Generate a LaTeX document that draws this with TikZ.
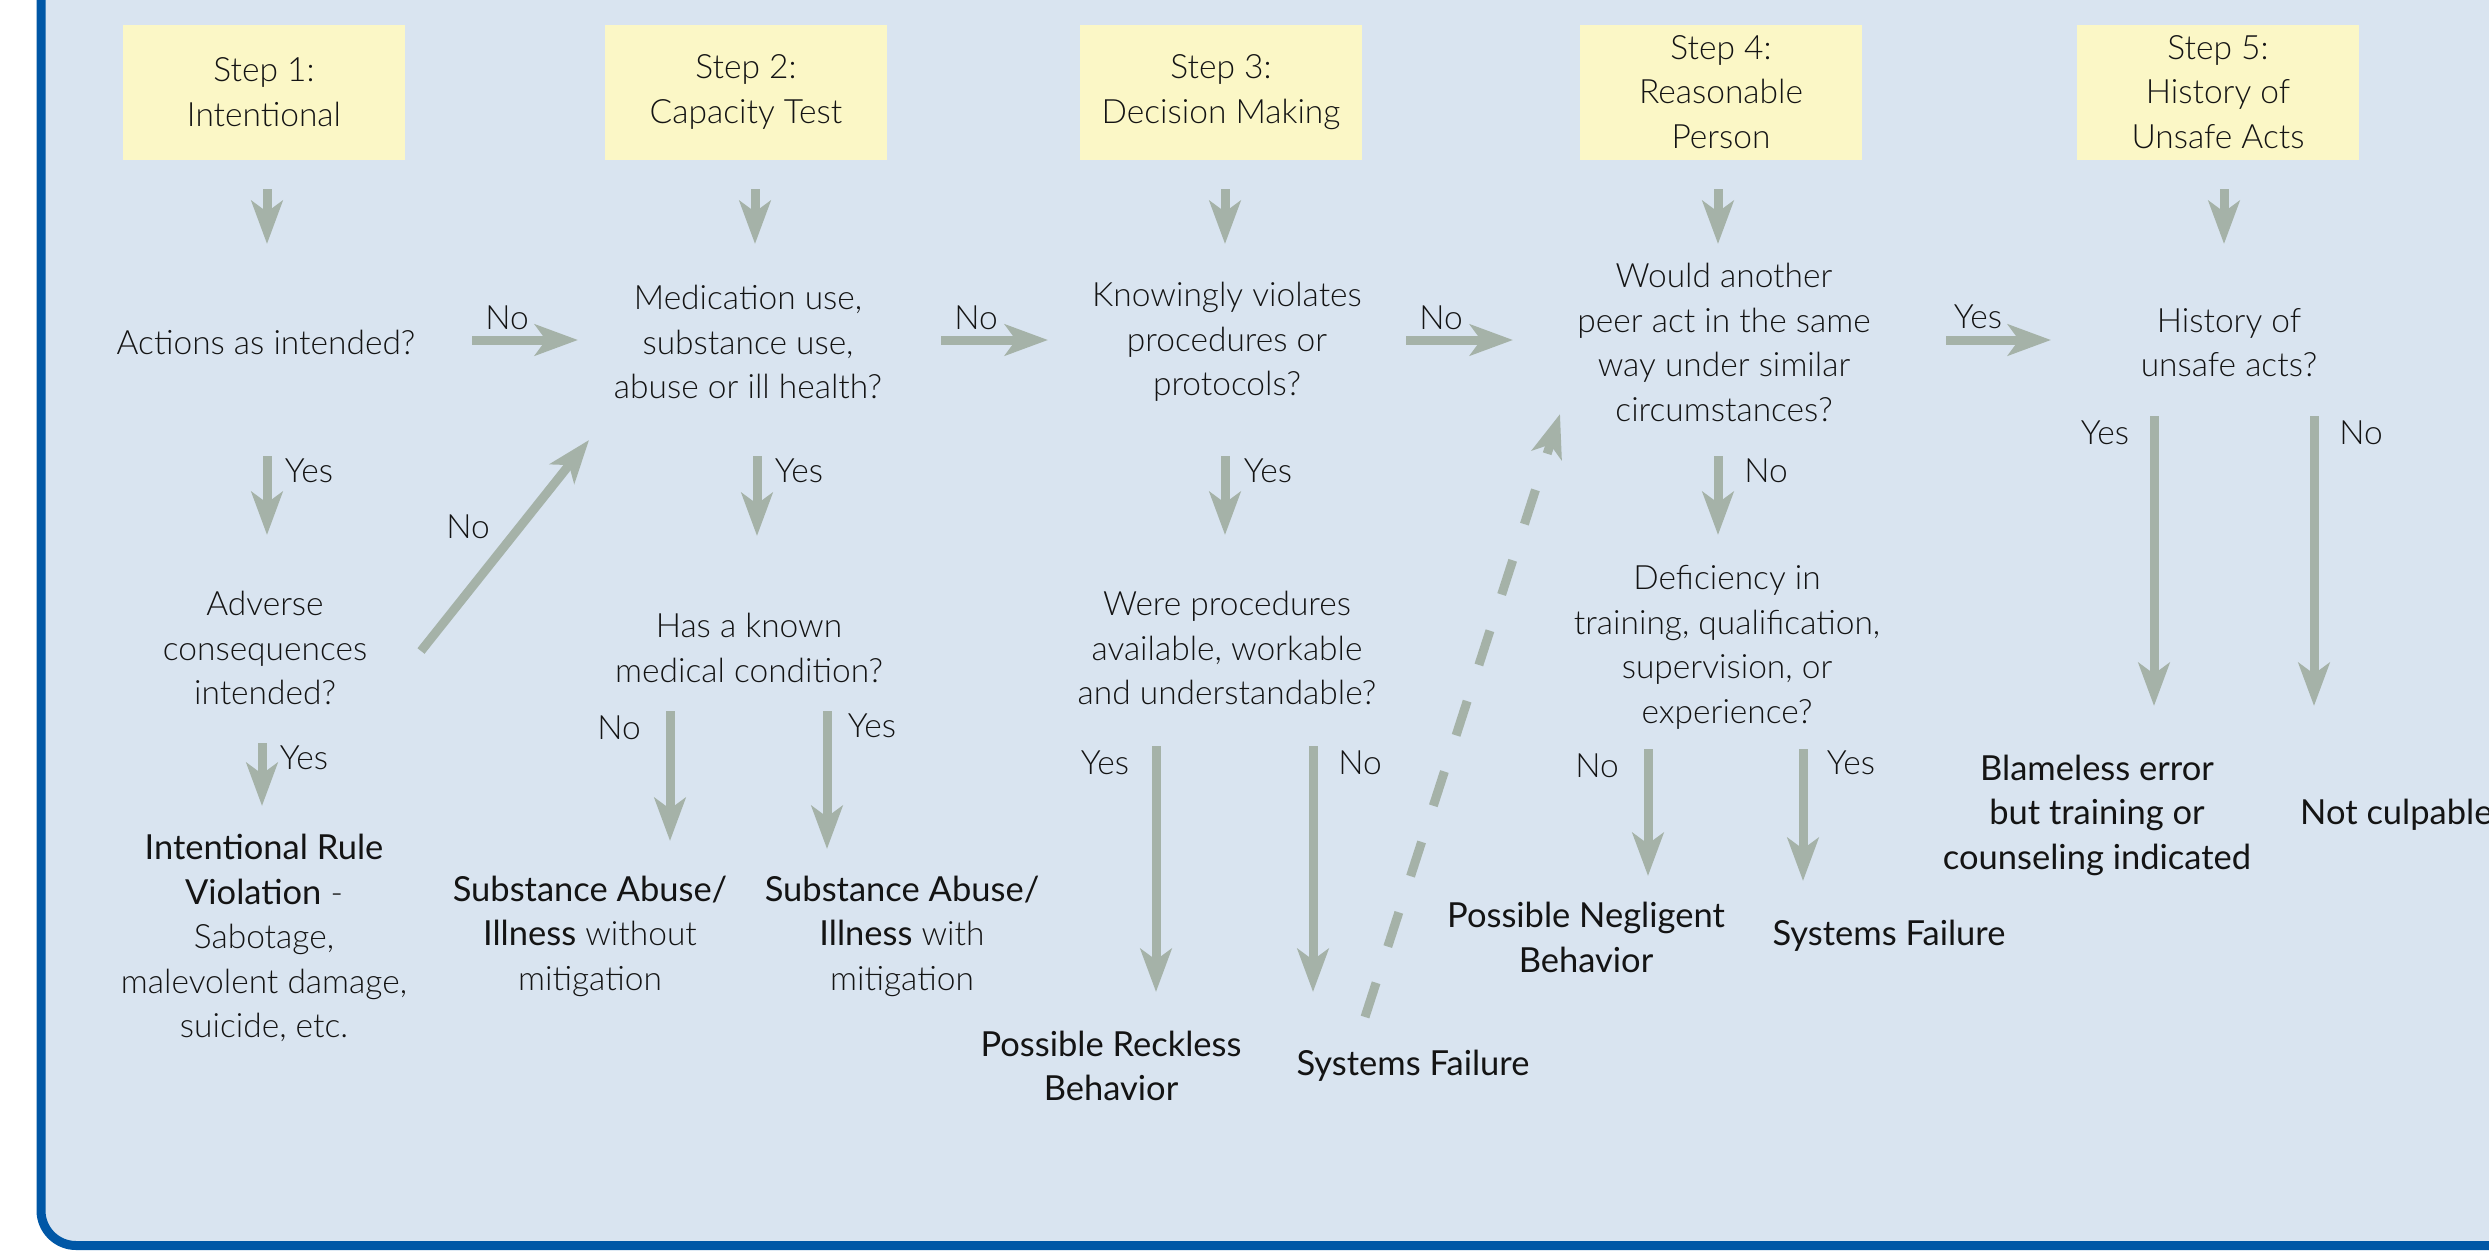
\documentclass[tikz,border=0pt]{standalone}
\usepackage{fontspec}
\setmainfont{Lato Light}[BoldFont={Lato}]
\usetikzlibrary{arrows.meta}

\definecolor{panelbg}{HTML}{D9E4F0}
\definecolor{panelblue}{HTML}{0057A6}
\definecolor{stepyellow}{HTML}{FBF7C6}
\definecolor{arrowgray}{HTML}{A5B2A8}
\definecolor{ink}{HTML}{141414}

\newcommand{\boldpart}[1]{{\fontsize{34.5}{44.5}\selectfont\bfseries #1}}

\tikzset{
  stepbox/.style={fill=stepyellow, minimum width=282pt, minimum height=135pt,
    align=center, inner sep=0pt},
  question/.style={align=center, inner sep=0pt},
  outcome/.style={align=center, inner sep=0pt, font=\fontsize{34.5}{44.5}\selectfont\bfseries},
  lbl/.style={inner sep=0pt},
  flow/.style={line width=9pt, draw=arrowgray,
    -{Stealth[length=43pt, width=31pt, inset=11pt]}},
  dashflow/.style={flow, dash pattern=on 36pt off 38pt}
}

\begin{document}
\begin{tikzpicture}[x=1pt, y=-1pt, text=ink,
  font=\fontsize{33.5}{44.5}\selectfont]
\useasboundingbox (0,0) rectangle (2489,1250);

% background panel with blue frame
\begin{scope}
  \clip (0,0) rectangle (2489,1250);
  \draw[line width=9pt, draw=panelblue, fill=panelbg, rounded corners=35pt]
    (41,-80) rectangle (2650,1245.5);
\end{scope}

% step headers
\node[stepbox] (s1) at (264,92) {Step 1:\\Intentional};
\node[stepbox] (s2) at (746,92) {Step 2:\\Capacity Test};
\node[stepbox] (s3) at (1221,92) {Step 3:\\Decision Making};
\node[stepbox] (s4) at (1721,92) {Step 4:\\Reasonable\\Person};
\node[stepbox] (s5) at (2218,92) {Step 5:\\History of\\Unsafe Acts};

% questions
\node[question] (q1)  at (266,342) {Actions as intended?};
\node[question] (q1b) at (265,648) {Adverse\\consequences\\intended?};
\node[question] (q2)  at (748,342) {Medication use,\\substance use,\\abuse or ill health?};
\node[question] (q2b) at (749,648) {Has a known\\medical condition?};
\node[question] (q3)  at (1227,342) {Knowingly violates\\procedures or\\protocols?};
\node[question] (q3b) at (1227,648) {Were procedures\\available, workable\\and understandable?};
\node[question] (q4)  at (1724,342.5) {Would another\\peer act in the same\\way under similar\\circumstances?};
\node[question] (q4b) at (1727,647.5) {Deficiency in\\training, qualification,\\supervision, or\\experience?};
\node[question] (q5)  at (2229,342.5) {History of\\unsafe acts?};

% outcomes
\node[question] (r1) at (264,938) {\boldpart{Intentional Rule}\\\boldpart{Violation} -\\Sabotage,\\malevolent damage,\\suicide, etc.};
\node[question] (r2a) at (590,936) {\boldpart{Substance Abuse/}\\\boldpart{Illness} without\\mitigation};
\node[question] (r2b) at (902,936) {\boldpart{Substance Abuse/}\\\boldpart{Illness} with\\mitigation};
\node[outcome] (r3a) at (1111,1066) {Possible Reckless\\Behavior};
\node[outcome] (r3b) at (1413,1066) {Systems Failure};
\node[outcome] (r4a) at (1586,937.5) {Possible Negligent\\Behavior};
\node[outcome] (r4b) at (1889,936) {Systems Failure};
\node[outcome] (r5a) at (2097,815) {Blameless error\\but training or\\counseling indicated};
\node[outcome, anchor=west] (r5b) at (2300,815) {Not culpable};

% arrow end points
\coordinate (a1s) at (267,189);  \coordinate (a1e) at (267,244);
\coordinate (a2s) at (755,189);  \coordinate (a2e) at (755,244);
\coordinate (a3s) at (1225,189); \coordinate (a3e) at (1225,244);
\coordinate (a4s) at (1718,189); \coordinate (a4e) at (1718,244);
\coordinate (a5s) at (2224,189); \coordinate (a5e) at (2224,244);

\coordinate (y1s) at (267,456);  \coordinate (y1e) at (267,535);
\coordinate (y1bs) at (262,743); \coordinate (y1be) at (262,806);
\coordinate (n1s) at (472,340);  \coordinate (n1e) at (578,340);
\coordinate (n1bs) at (421,651); \coordinate (n1be) at (589,440);

\coordinate (y2s) at (757,456);  \coordinate (y2e) at (757,536);
\coordinate (n2bs) at (670,711); \coordinate (n2be) at (670,841);
\coordinate (y2bs) at (827,711); \coordinate (y2be) at (827,849);
\coordinate (n2s) at (941,340);  \coordinate (n2e) at (1048,340);

\coordinate (y3s) at (1225,456); \coordinate (y3e) at (1225,535);
\coordinate (y3bs) at (1156,746); \coordinate (y3be) at (1156,992);
\coordinate (n3bs) at (1313,746); \coordinate (n3be) at (1313,992);
\coordinate (n3s) at (1406,340); \coordinate (n3e) at (1513,340);
\coordinate (sfs) at (1365,1017); \coordinate (sfe) at (1560,414);

\coordinate (n4s) at (1718,456); \coordinate (n4e) at (1718,535);
\coordinate (n4bs) at (1648,749); \coordinate (n4be) at (1648,876);
\coordinate (y4bs) at (1803,749); \coordinate (y4be) at (1803,881);
\coordinate (y4s) at (1946,340); \coordinate (y4e) at (2051,340);

\coordinate (y5s) at (2154,416); \coordinate (y5e) at (2154,706);
\coordinate (n5s) at (2314,416); \coordinate (n5e) at (2314,706);

% connectors
\foreach \a in {a1,a2,a3,a4,a5,y1,y1b,n1,n1b,y2,n2b,y2b,n2,y3,y3b,n3b,n3,n4,n4b,y4b,y4,y5,n5}
  \draw[flow] (\a s) -- (\a e);
\draw[dashflow] (sfs) -- (sfe);

% branch labels
\node[lbl] (ly1)  at (309,471) {Yes};
\node[lbl] (ly1b) at (304,758) {Yes};
\node[lbl] (ln1)  at (507,318) {No};
\node[lbl] (ln1b) at (468,527) {No};
\node[lbl] (ly2)  at (799,471) {Yes};
\node[lbl] (ln2b) at (619,728) {No};
\node[lbl] (ly2b) at (872,726) {Yes};
\node[lbl] (ln2)  at (976,318) {No};
\node[lbl] (ly3)  at (1268,471) {Yes};
\node[lbl] (ly3b) at (1105,763) {Yes};
\node[lbl] (ln3b) at (1360,763) {No};
\node[lbl] (ln3)  at (1441,318) {No};
\node[lbl] (ln4)  at (1766,471) {No};
\node[lbl] (ln4b) at (1597,766) {No};
\node[lbl] (ly4b) at (1851,763) {Yes};
\node[lbl] (ly4)  at (1978,317) {Yes};
\node[lbl] (ly5)  at (2105,433) {Yes};
\node[lbl] (ln5)  at (2361,433) {No};
\end{tikzpicture}
\end{document}
